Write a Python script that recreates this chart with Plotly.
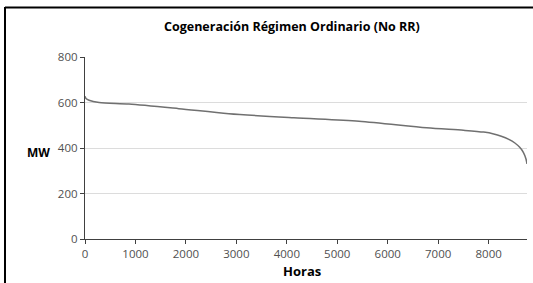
import plotly.graph_objects as go

hours = [0, 20, 80, 280, 870, 1860, 2850, 4140, 5430, 6770, 7500, 7900, 8100, 8250, 8400, 8520, 8620, 8690, 8740, 8760]
mw = [627, 618, 610, 600, 593, 573, 551, 533, 518, 489, 478, 470, 462, 452, 438, 422, 402, 380, 352, 330]

x_ticks = [0, 1000, 2000, 3000, 4000, 5000, 6000, 7000, 8000]
y_ticks = [0, 200, 400, 600, 800]

title_text = "Cogeneración Régimen Ordinario (No RR)"
x_title = "Horas"
y_title = "MW"

fig = go.Figure()
fig.add_trace(go.Scatter(x=hours, y=mw, mode="lines",
                         line=dict(color="#707070", width=1.5, shape="spline", smoothing=0.8),
                         showlegend=False, hoverinfo="skip"))

fig.update_layout(
    width=533, height=283,
    margin=dict(l=85, r=6, t=57, b=44),
    paper_bgcolor="white", plot_bgcolor="white",
    font=dict(family="Open Sans, sans-serif", size=11, color="#404040"),
    xaxis=dict(range=[0, 8760], tickvals=x_ticks, ticks="outside", ticklen=4,
               tickcolor="#404040", showline=True, linecolor="#404040", linewidth=1.2,
               showgrid=False, zeroline=False, tickfont=dict(size=11.5, color="#505050")),
    yaxis=dict(range=[0, 800], tickvals=y_ticks, ticks="outside", ticklen=4,
               tickcolor="#404040", showline=True, linecolor="#404040", linewidth=1.2,
               showgrid=True, gridcolor="#dcdcdc", gridwidth=1, zeroline=False,
               tickfont=dict(size=11.5, color="#505050")),
    annotations=[
        dict(text="<b>" + title_text + "</b>", xref="paper", yref="paper",
             x=0.468, y=1.17, xanchor="center", yanchor="middle", showarrow=False,
             font=dict(size=12.5, color="black", family="Open Sans, sans-serif")),
        dict(text="<b>" + y_title + "</b>", xref="paper", yref="paper",
             x=-0.106, y=0.478, xanchor="center", yanchor="middle", showarrow=False,
             font=dict(size=12, color="black", family="Open Sans, sans-serif")),
        dict(text="<b>" + x_title + "</b>", xref="paper", yref="paper",
             x=0.49, y=-0.176, xanchor="center", yanchor="middle", showarrow=False,
             font=dict(size=13, color="black", family="Open Sans, sans-serif")),
    ],
    shapes=[
        dict(type="line", xref="paper", yref="paper", x0=-0.181, x1=-0.181, y0=-0.3, y1=1.275,
             line=dict(color="black", width=2)),
        dict(type="line", xref="paper", yref="paper", x0=-0.181, x1=1.02, y0=1.272, y1=1.272,
             line=dict(color="black", width=2)),
    ],
)

fig.write_html("out.html", config={"displayModeBar": False},
               post_script="document.body.style.margin='0';document.body.style.overflow='hidden';")
